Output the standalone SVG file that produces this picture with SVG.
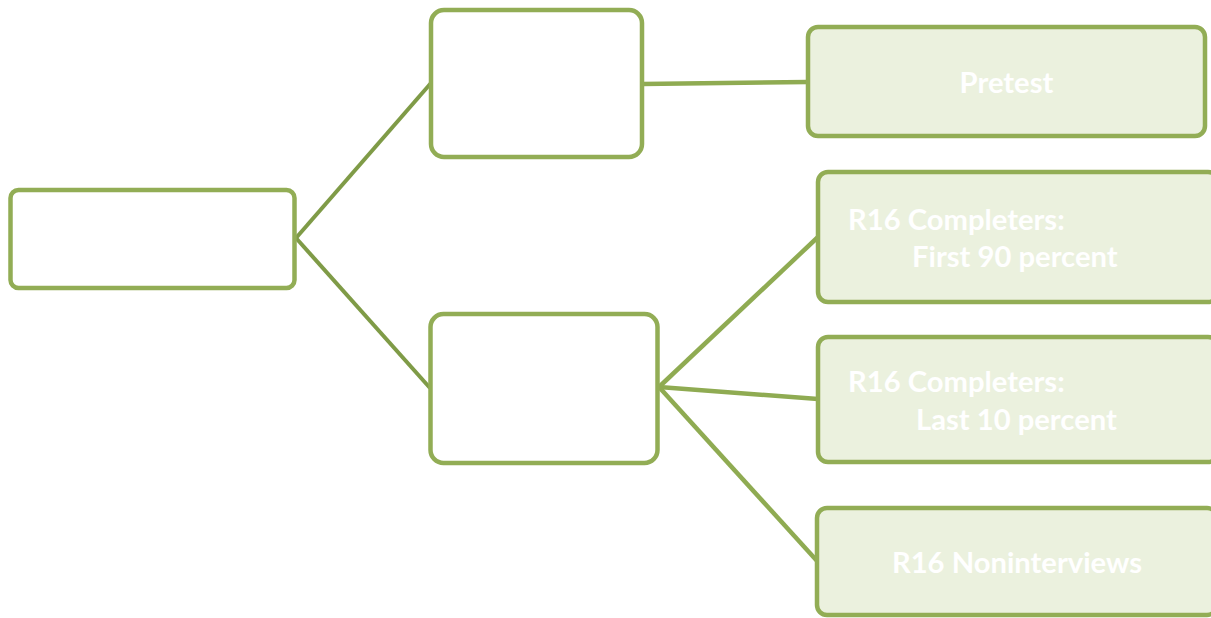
<svg xmlns="http://www.w3.org/2000/svg" width="1211" height="618" viewBox="0 0 1211 618">
<style>
.blank{fill:#FFFFFF;stroke:#92AD55;stroke-width:4.5}
.leaf{fill:#EBF1DE;stroke:#92AD55;stroke-width:4.5}
.c1{stroke:#7F9B47;stroke-width:4;fill:none}
.c2{stroke:#8FAB52;stroke-width:4.5;fill:none}
text{font-family:Lato,"Open Sans",sans-serif;font-weight:bold;font-size:29.2px;fill:#FFFFFF}
</style>
<rect width="1211" height="618" fill="#FFFFFF"/>
<g id="connectors">
<line class="c1" x1="296" y1="238" x2="431" y2="83"/>
<line class="c1" x1="296" y1="238" x2="430" y2="388"/>
<line class="c2" x1="642" y1="84" x2="808" y2="82"/>
<line class="c2" x1="659" y1="387" x2="818" y2="237"/>
<line class="c2" x1="659" y1="387" x2="818" y2="399"/>
<line class="c2" x1="659" y1="387" x2="818" y2="562"/>
</g>
<g id="root"><rect class="blank" x="10.5" y="190" width="284" height="98" rx="8"/></g>
<g id="mid-top"><rect class="blank" x="431" y="10" width="211" height="147" rx="13"/></g>
<g id="mid-bottom"><rect class="blank" x="430.5" y="314" width="227" height="149" rx="13"/></g>
<g id="pretest"><rect class="leaf" x="808" y="27" width="397" height="109" rx="10"/>
<text x="1006.5" y="93" text-anchor="middle">Pretest</text></g>
<g id="first90"><rect class="leaf" x="818" y="172" width="400" height="130" rx="10"/>
<text x="848" y="230">R16 Completers:</text>
<text x="912" y="267">First 90 percent</text></g>
<g id="last10"><rect class="leaf" x="818" y="337" width="400" height="125" rx="10"/>
<text x="848" y="392">R16 Completers:</text>
<text x="916" y="430">Last 10 percent</text></g>
<g id="nonint"><rect class="leaf" x="817" y="508" width="400" height="107" rx="10"/>
<text x="1017" y="573" text-anchor="middle">R16 Noninterviews</text></g>
</svg>
